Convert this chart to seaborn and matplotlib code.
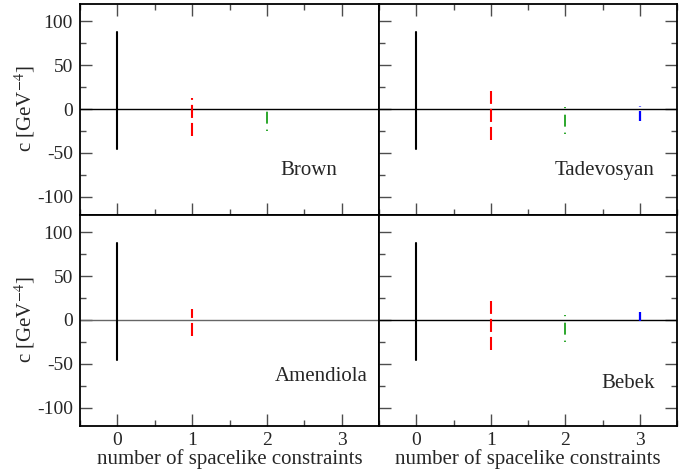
import numpy as np
import pandas as pd
import matplotlib
matplotlib.use("Agg")
import matplotlib.pyplot as plt
import seaborn as sns
from matplotlib.ticker import MultipleLocator

sns.set_theme(style="ticks")
plt.rcParams["font.family"] = ["Liberation Serif", "DejaVu Serif"]
plt.rcParams["mathtext.fontset"] = "stix"
plt.rcParams["lines.scale_dashes"] = False
plt.rcParams["axes.unicode_minus"] = False

# ---- data ----
panels = ["Brown", "Tadevosyan", "Amendiola", "Bebek"]
constraints = [0, 1, 2, 3]
colors = ["black", "#ff0000", "#089808", "#0000ff"]
lower = {
    "Brown":      [-46, -31, -24.5, None],
    "Tadevosyan": [-46, -35, -28, -14],
    "Amendiola":  [-46, -18, None, None],
    "Bebek":      [-46, -34, -25, -1.6],
}
upper = {
    "Brown":      [88, 12.5, -2.7, None],
    "Tadevosyan": [88, 20, 2.3, 3.8],
    "Amendiola":  [88, 12.5, None, None],
    "Bebek":      [88, 22, 5.2, 9],
}
xticks = [0, 1, 2, 3]
yticks = [-100, -50, 0, 50, 100]
xlabel = "number of spacelike constraints"
ylabel = r"c [GeV$^{\mathrm{-4}}$]"

styles = ["-", (0, (9.4, 3.6)), (0, (1.0, 4.3, 8.6, 4.7)), (0, (7.2, 3.2, 1.0, 3.2))]
widths = [1.5, 1.5, 1.2, 1.6]

W, H = 689, 474
fig = plt.figure(figsize=(W / 100, H / 100), dpi=100)

boxes = {
    "Brown":      (80, 3.5, 379, 214.5),
    "Tadevosyan": (379, 3.5, 677, 214.5),
    "Amendiola":  (80, 214.5, 379, 425.5),
    "Bebek":      (379, 214.5, 677, 425.5),
}
label_pos = {
    "Brown": (2.56, -70),
    "Tadevosyan": (2.53, -70),
    "Amendiola": (2.73, -64),
    "Bebek": (2.84, -72),
}

for name in panels:
    x0, y0, x1, y1 = boxes[name]
    ax = fig.add_axes([x0 / W, 1 - y1 / H, (x1 - x0) / W, (y1 - y0) / H])
    ax.set_xlim(-0.5, 3.5)
    ax.set_ylim(-120, 120)
    zcol = "0.4" if name == "Amendiola" else "black"
    ax.axhline(0, color=zcol, lw=1.0, zorder=1)
    for i, c in enumerate(constraints):
        lo, hi = lower[name][i], upper[name][i]
        if lo is None:
            continue
        df = pd.DataFrame({"n": [c, c], "c": [lo, hi]})
        sns.lineplot(data=df, x="n", y="c", orient="y", estimator=None,
                     color=colors[i], lw=widths[i], linestyle=styles[i],
                     ax=ax, zorder=3)
    ax.text(*label_pos[name], name, ha="center", va="center", fontsize=15)

    ax.xaxis.set_major_locator(MultipleLocator(1))
    ax.xaxis.set_minor_locator(MultipleLocator(0.5))
    ax.yaxis.set_major_locator(MultipleLocator(50))
    ax.yaxis.set_minor_locator(MultipleLocator(25))
    ax.set_xticks(xticks)
    ax.set_yticks(yticks)

    top_row = name in ("Brown", "Tadevosyan")
    left_col = name in ("Brown", "Amendiola")
    ax.tick_params(which="both", direction="in", width=1.0, color="0.3",
                   top=top_row, bottom=True, left=True, right=not left_col,
                   labelbottom=not top_row, labelleft=left_col, labelsize=14)
    ax.tick_params(which="major", length=8.5, pad=5)
    ax.tick_params(which="minor", length=4.3)
    for sp in ax.spines.values():
        sp.set_color("black")
        sp.set_linewidth(1.3)
        sp.set_visible(True)
    if left_col:
        ax.set_ylabel(ylabel, fontsize=15, labelpad=0)
    else:
        ax.set_ylabel("")
    if not top_row:
        ax.set_xlabel(xlabel, fontsize=15, labelpad=0)
    else:
        ax.set_xlabel("")
    ax.set_facecolor("white")

fig.savefig("out.png", dpi=100)
